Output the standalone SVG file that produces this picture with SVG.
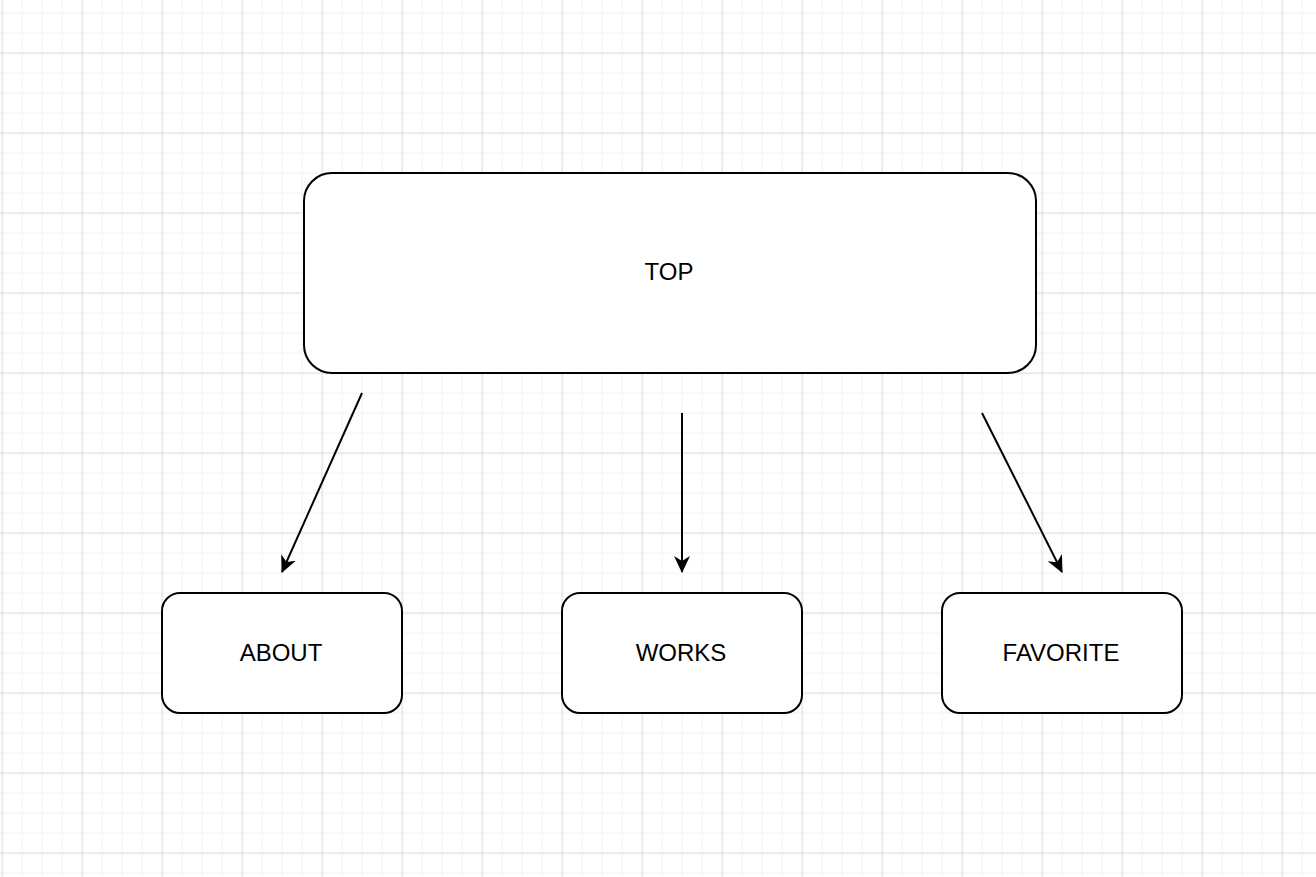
<svg xmlns="http://www.w3.org/2000/svg" width="1316" height="877" viewBox="0 0 1316 877">
<defs>
<pattern id="minor" x="1.5" y="12.5" width="20" height="20" patternUnits="userSpaceOnUse">
<path d="M0.5 0V20M0 0.5H20" stroke="#f3f3f3" stroke-width="1.5" fill="none"/>
</pattern>
<pattern id="major" x="1.5" y="52.5" width="80" height="80" patternUnits="userSpaceOnUse">
<path d="M0.5 0V80M0 0.5H80" stroke="#e3e3e3" stroke-width="1.5" fill="none"/>
</pattern>
<marker id="arr" viewBox="0 0 17 18" refX="16" refY="9" markerWidth="17" markerHeight="18" markerUnits="userSpaceOnUse" orient="auto">
<path d="M0 1L17 9L0 17L5 9Z" fill="#000"/>
</marker>
<style>
.box{fill:#fff;stroke:#000;stroke-width:2}
.lbl{font-family:"Liberation Sans",Arial,sans-serif;font-size:24px;fill:#000;text-anchor:middle}
.con{stroke:#000;stroke-width:2;fill:none;marker-end:url(#arr)}
</style>
</defs>
<rect width="1316" height="877" fill="#fff"/>
<rect width="1316" height="877" fill="url(#minor)"/>
<rect width="1316" height="877" fill="url(#major)"/>
<g id="connectors">
<path class="con" d="M362 393L282 572"/>
<path class="con" d="M682 413L682 572"/>
<path class="con" d="M982 413L1062 572"/>
</g>
<g id="top"><rect class="box" x="304" y="173" width="732" height="200" rx="28"/><text class="lbl" x="669" y="280">TOP</text></g>
<g id="about"><rect class="box" x="162" y="593" width="240" height="120" rx="18"/><text class="lbl" x="281" y="661">ABOUT</text></g>
<g id="works"><rect class="box" x="562" y="593" width="240" height="120" rx="18"/><text class="lbl" x="681" y="661">WORKS</text></g>
<g id="favorite"><rect class="box" x="942" y="593" width="240" height="120" rx="18"/><text class="lbl" x="1061" y="661">FAVORITE</text></g>
</svg>
